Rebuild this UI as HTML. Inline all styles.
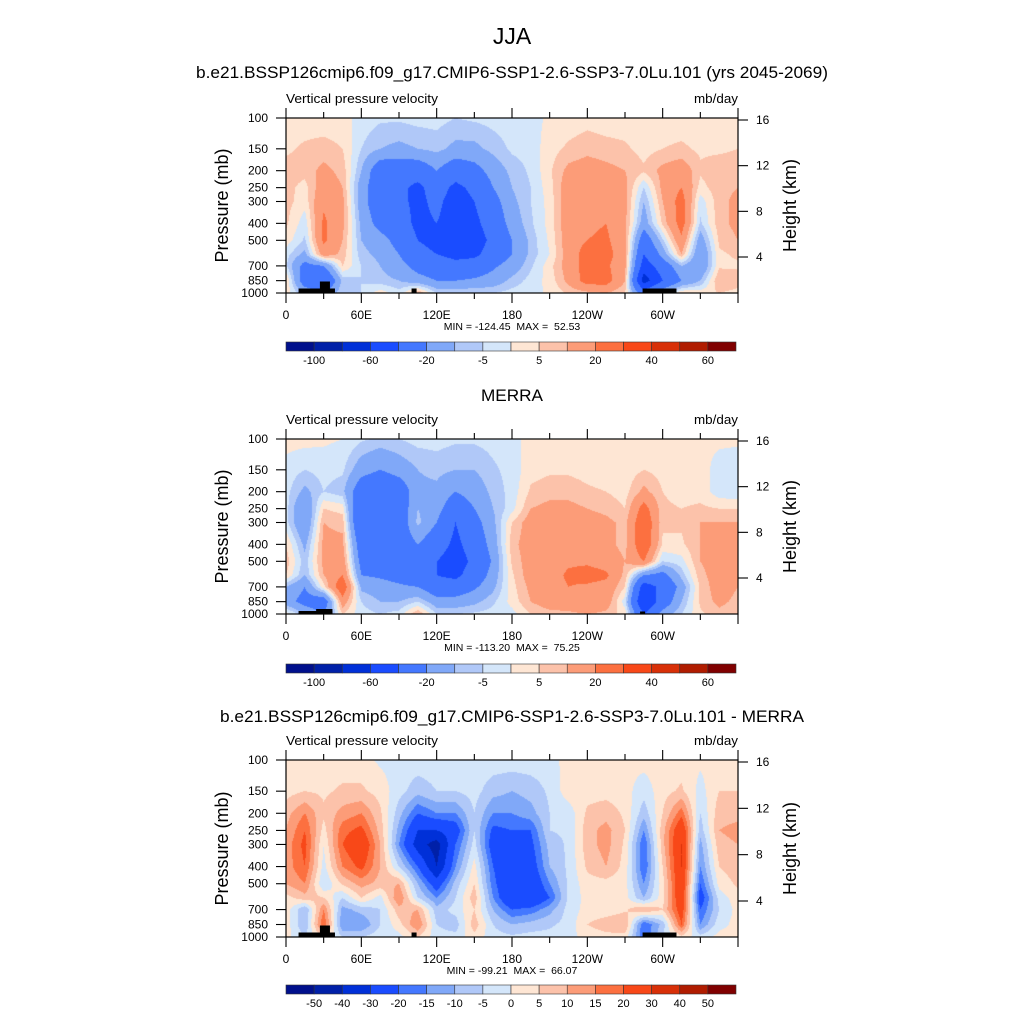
<!DOCTYPE html>
<html><head><meta charset="utf-8">
<style>
html,body{margin:0;padding:0;background:#fff;}
#wrap{position:relative;width:1024px;height:1024px;overflow:hidden;}
canvas{position:absolute;}
svg{position:absolute;left:0;top:0;}
text{font-family:"Liberation Sans",sans-serif;fill:#000;white-space:pre;}
</style></head><body>
<div id="wrap">
<canvas id="c0" width="452" height="175" style="left:286px;top:118px"></canvas>
<canvas id="c1" width="452" height="175" style="left:286px;top:439px"></canvas>
<canvas id="c2" width="452" height="177" style="left:286px;top:760px"></canvas>
<svg id="s" width="1024" height="1024"></svg>
</div>
<script>
// ---- data ----
const lons = [0,15,30,45,60,75,90,105,120,135,150,165,180,195,210,225,240,255,270,285,300,315,330,345,360];
const levels = [100,150,200,250,300,400,500,600,700,850,1000];
const model = [
[2,4,7,7,7,6,3,-3,-4,6,3],
[2,6,7,3,2,-3,-6,-12,-25,-30,-10],
[2,7,12,15,18,22,22,15,-20,-40,-20],
[2,5,8,10,12,12,10,8,5,-8,-5],
[-2,-5,-10,-15,-15,-12,-10,-8,-5,-5,-5],
[-4,-10,-30,-30,-30,-25,-15,-12,-10,-8,3],
[-4,-12,-30,-35,-35,-30,-25,-20,-15,-10,-3],
[-3,-10,-30,-45,-45,-45,-40,-35,-25,-15,10],
[-3,-8,-20,-30,-35,-40,-45,-40,-30,-20,-5],
[-5,-12,-30,-45,-50,-50,-50,-45,-35,-20,-5],
[-4,-12,-25,-35,-40,-45,-50,-45,-30,-18,-5],
[-3,-8,-15,-20,-25,-30,-35,-30,-22,-15,-5],
[-2,-4,-8,-10,-12,-15,-20,-20,-15,-8,-3],
[-2,-3,-4,-5,-5,-6,-8,-8,-6,-3,-2],
[1,3,4,3,2,2,1,0,3,2,1],
[2,6,12,15,15,15,15,14,14,12,6],
[3,8,14,16,18,18,20,25,25,25,8],
[2,7,12,16,18,20,22,25,22,25,10],
[2,6,10,12,12,12,12,12,12,10,5],
[1,3,6,-5,-10,-15,-30,-40,-50,-70,-30],
[2,5,12,12,10,6,-6,-15,-30,-40,-10],
[2,6,15,20,25,25,18,10,-10,-20,5],
[2,4,6,3,-3,-6,-15,-20,-20,-10,3],
[2,4,8,8,8,8,6,4,4,10,5],
[2,5,8,10,12,12,10,6,4,8,3]];
const merra = [
[2,-2,-3,-3,-3,5,8,5,-10,-15,3],
[2,-5,-12,-20,-20,-12,-8,-10,-20,-25,-10],
[1,-3,-5,5,10,12,12,10,3,-30,-20],
[0,-4,-8,3,8,12,15,20,30,15,5],
[-4,-15,-30,-40,-40,-30,-25,-20,-12,-5,-3],
[-6,-20,-35,-35,-35,-30,-25,-22,-15,-10,-5],
[-5,-15,-30,-30,-30,-30,-28,-25,-18,-10,-3],
[-3,-10,-12,-10,-8,-20,-30,-30,-20,-5,10],
[-3,-8,-12,-15,-20,-30,-40,-40,-30,-15,-5],
[-4,-10,-20,-30,-40,-45,-50,-45,-30,-15,-5],
[-4,-10,-15,-20,-25,-30,-35,-30,-22,-12,-4],
[-3,-6,-8,-10,-12,-15,-18,-15,-12,-6,-3],
[-2,-3,-3,-2,5,8,6,4,3,2,-2],
[2,3,6,10,14,14,14,14,12,10,5],
[2,4,8,12,15,15,15,15,15,14,8],
[2,4,8,12,15,16,18,22,20,16,8],
[1,3,6,10,14,15,18,25,18,20,10],
[1,2,5,8,12,12,15,22,16,15,8],
[1,2,3,5,8,8,10,8,5,-3,3],
[2,5,12,25,30,30,20,-20,-50,-60,-40],
[2,3,5,6,6,4,-5,-25,-35,-30,-15],
[1,2,3,5,6,4,-2,-8,-15,-10,-5],
[1,2,3,6,10,10,10,8,6,6,4],
[1,-2,-3,5,10,12,14,14,14,12,8],
[1,-3,-4,5,10,12,14,12,10,8,5]];
const diff = [
[3,3,8,10,12,12,10,3,3,3,2],
[2,5,15,20,22,20,15,8,-10,-10,-5],
[2,4,6,3,0,-2,-5,5,15,20,5],
[2,6,12,18,20,15,6,-5,-12,-15,-5],
[2,6,15,22,28,22,12,5,-8,-15,-5],
[-1,3,6,8,10,10,8,-2,-5,-5,-2],
[-2,-3,-8,-12,-15,-5,10,15,8,3,-2],
[-2,-8,-20,-30,-35,-20,-10,-5,10,15,5],
[-2,-5,-15,-30,-45,-40,-25,-15,-8,-5,-3],
[-2,-5,-15,-25,-20,-15,-8,-5,-3,-8,-3],
[-2,-3,-5,-5,-3,2,5,8,5,8,3],
[-2,-8,-15,-22,-25,-20,-18,-15,-10,-5,-3],
[-2,-10,-15,-20,-25,-28,-30,-30,-20,-10,-4],
[-2,-8,-12,-20,-22,-25,-28,-30,-18,-8,-3],
[-2,-4,-5,-5,-8,-10,-15,-20,-12,-6,-3],
[2,3,-3,-4,-4,-4,-4,-4,-3,-3,-2],
[1,3,6,8,8,6,3,2,2,5,2],
[1,3,8,12,12,10,3,2,2,8,3],
[1,2,4,5,4,3,2,2,4,10,3],
[2,-3,-8,-15,-20,-20,-15,-10,10,-20,-20],
[2,3,5,8,8,5,3,3,5,-8,-5],
[2,6,18,28,30,30,28,28,25,20,3],
[1,-2,-5,-8,-12,-15,-20,-25,-20,-15,-3],
[2,5,8,10,8,5,2,-3,-5,-2,2],
[2,5,8,12,10,8,6,3,2,2,2]];
const cnLevels = [-100,-80,-60,-40,-20,-10,-5,0,5,10,20,30,40,50,60];
const cnLabels = ["-100","-60","-20","-5","5","20","40","60"];
const diffLevels = [-50,-40,-30,-20,-15,-10,-5,0,5,10,15,20,30,40,50];
const diffLabels = ["-50","-40","-30","-20","-15","-10","-5","0","5","10","15","20","30","40","50"];
const colors = ["#00108c","#0020a8","#0030d8","#1a4cff","#4478ff","#80a8f8","#b0c8f8","#d4e6fa","#fee6d4","#fcc2aa","#fc9c78","#fc7040","#f84818","#d83008","#b01c00","#800000"];
const pTicks = [100,150,200,250,300,400,500,700,850,1000];
const hTicks = [16,12,8,4];
const xTicks = [0,60,120,180,240,300];
const xTickLabels = ["0","60E","120E","180","120W","60W"];
const minmax = ["MIN = -124.45  MAX =  52.53","MIN = -113.20  MAX =  75.25","MIN = -99.21  MAX =  66.07"];

// ---- layout ----
const X0=286, X1=738;
const panels=[{top:118,h:175,data:model,lv:cnLevels,lab:cnLabels,labAtAll:false,cb:342,mm:minmax[0],land:true,title:"b.e21.BSSP126cmip6.f09_g17.CMIP6-SSP1-2.6-SSP3-7.0Lu.101 (yrs 2045-2069)",tY:78,tx0:196,tw:632},
 {top:439,h:175,data:merra,lv:cnLevels,lab:cnLabels,labAtAll:false,cb:664,mm:minmax[1],land:false,title:"MERRA",tY:401,tx0:481,tw:62},
 {top:760,h:177,data:diff,lv:diffLevels,lab:diffLabels,labAtAll:true,cb:985,mm:minmax[2],land:true,title:"b.e21.BSSP126cmip6.f09_g17.CMIP6-SSP1-2.6-SSP3-7.0Lu.101 - MERRA",tY:722,tx0:220,tw:584}];
function xs(lon){return X0+(lon/360)*(X1-X0);}
function ys(p,top,h){return top+h-(Math.log(1000/p)/Math.log(10))*h;}
function hs(km,top,h){return top+h-36-(km-4)*(h-38)/12;}
const hexRGB=c=>[1,3,5].map(i=>parseInt(c.substr(i,2),16));
const rgb=colors.map(hexRGB);
function colorIdx(v,lv){let i=0;while(i<lv.length&&v>=lv[i])i++;return i;}
const logP=levels.map(p=>Math.log(1000/p));

panels.forEach((P,k)=>{
  const cv=document.getElementById('c'+k);const ctx=cv.getContext('2d');
  const W=cv.width,H=cv.height;const img=ctx.createImageData(W,H);
  for(let j=0;j<H;j++){
    const lp=(H-j-0.5)/H*Math.log(10);
    let r=0;while(r<levels.length-2&&logP[r+1]>lp)r++;
    let t=(logP[r]-lp)/(logP[r]-logP[r+1]);t=Math.max(0,Math.min(1,t));
    for(let i=0;i<W;i++){
      const lon=(i+0.5)/W*360;
      let c=Math.min(lons.length-2,Math.floor(lon/15));
      const s=(lon-lons[c])/15;
      const v=(1-s)*((1-t)*P.data[c][r]+t*P.data[c][r+1])+s*((1-t)*P.data[c+1][r]+t*P.data[c+1][r+1]);
      const col=rgb[colorIdx(v,P.lv)];const o=(j*W+i)*4;
      img.data[o]=col[0];img.data[o+1]=col[1];img.data[o+2]=col[2];img.data[o+3]=255;
    }
  }
  ctx.putImageData(img,0,0);
});

// ---- SVG ----
const svg=document.getElementById('s');const NS="http://www.w3.org/2000/svg";
function el(tag,attrs,parent){const e=document.createElementNS(NS,tag);for(const a in attrs)e.setAttribute(a,attrs[a]);(parent||svg).appendChild(e);return e;}
function txt(str,x,y,size,anchor,parent,extra){const e=el('text',Object.assign({x:x,y:y,'font-size':size,'text-anchor':anchor||'start'},extra||{}),parent);e.textContent=str;return e;}

const t0=txt("JJA",512,44,23,'middle');



panels.forEach((P,k)=>{
  const g=el('g',{});
  
  
  const top=P.top,h=P.h,bot=top+h;
  const tt=txt(P.title,P.tx0,P.tY,16.5,'start',g,{textLength:P.tw,lengthAdjust:'spacingAndGlyphs'});
  
  
  const lt=txt("Vertical pressure velocity",286,top-15,13,'start',g,{textLength:152,lengthAdjust:'spacingAndGlyphs'});
  
  
  const ut=txt("mb/day",738,top-15,13,'end',g,{textLength:44,lengthAdjust:'spacingAndGlyphs'});
  
  
  if(P.land){
    [[10,39,4.5],[27,35,11.5],[100,104,4.5],[284,311,4.5]].forEach(b=>{
      const r=el('rect',{x:xs(b[0]),y:bot-b[2],width:xs(b[1])-xs(b[0]),height:b[2],fill:'#000'},g);
      
      
    });
  } else {
    [[10,37,3],[24,37,5],[282,286,2.5]].forEach(b=>{
      const r=el('rect',{x:xs(b[0]),y:bot-b[2],width:xs(b[1])-xs(b[0]),height:b[2],fill:'#000'},g);
      
      
    });
  }
  const fr=el('rect',{x:X0,y:top,width:X1-X0,height:h,fill:'none',stroke:'#000','stroke-width':1.2},g);
  
  
  for(let lon=0;lon<=360;lon+=30){
    const major=lon%60===0;const L=major?10:6;const x=xs(lon);
    el('line',{x1:x,x2:x,y1:bot,y2:bot+L,stroke:'#000','stroke-width':1.1},g);
    el('line',{x1:x,x2:x,y1:top,y2:top-L,stroke:'#000','stroke-width':1.1},g);
  }
  xTicks.forEach((lon,i)=>{
    const e=txt(xTickLabels[i],xs(lon),bot+26,12,'middle',g);
    
    
  });
  pTicks.forEach(p=>{
    const y=ys(p,top,h);
    el('line',{x1:X0,x2:X0-10,y1:y,y2:y,stroke:'#000','stroke-width':1.1},g);
    const e=txt(String(p),X0-18,y+4,12,'end',g);
    
    
  });
  hTicks.forEach(km=>{
    const y=hs(km,top,h);
    el('line',{x1:X1,x2:X1+10,y1:y,y2:y,stroke:'#000','stroke-width':1.1},g);
    const e=txt(String(km),X1+18,y+4,12,'start',g);
    
    
  });
  const ya=txt("Pressure (mb)",0,0,18,'middle',g,{transform:`translate(228,${top+h/2}) rotate(-90)`});
  
  
  const ha=txt("Height (km)",0,0,18,'middle',g,{transform:`translate(796,${top+h/2}) rotate(-90)`});
  
  
  const mm=txt(P.mm,512,bot+37,10.5,'middle',g);
  
  
  const cbg=el('g',{},g);
  
  
  const bw=(736-286)/colors.length;
  colors.forEach((c,i)=>{
    const r=el('rect',{x:286+i*bw,y:P.cb,width:bw,height:9,fill:c,stroke:'#333','stroke-width':0.6},cbg);
    
    
  });
  P.lab.forEach((s,i)=>{
    const b=P.labAtAll?i+1:2*i+1;
    const e=txt(s,286+b*bw,P.cb+22,11,'middle',cbg);
    
    
  });
});
</script>
</body></html>
